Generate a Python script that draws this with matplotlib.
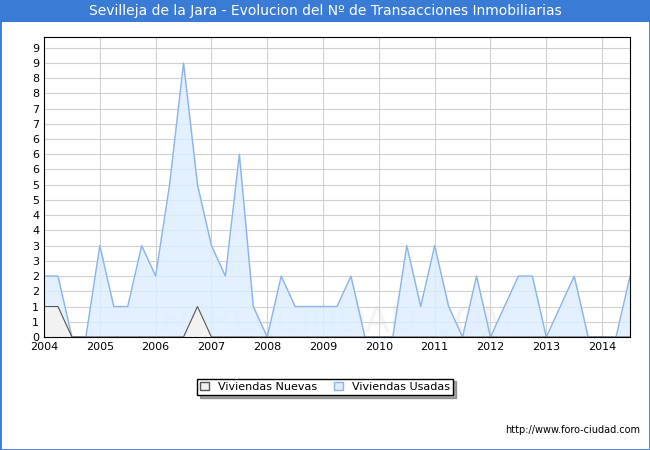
import numpy as np
import matplotlib.pyplot as plt
from matplotlib.patches import Rectangle

x = [2004 + 0.25 * i for i in range(43)]
usadas = [2, 2, 0, 0, 3, 1, 1, 3, 2, 5, 9, 5, 3, 2, 6, 1, 0, 2, 1, 1, 1, 1, 2, 0, 0, 0,
          3, 1, 3, 1, 0, 2, 0, 1, 2, 2, 0, 1, 2, 0, 0, 0, 2]
nuevas = [1, 1, 0, 0, 0, 0, 0, 0, 0, 0, 0, 1, 0, 0, 0, 0, 0, 0, 0, 0, 0, 0, 0, 0, 0, 0,
          0, 0, 0, 0, 0, 0, 0, 0, 0, 0, 0, 0, 0, 0, 0, 0, 0]
years = list(range(2004, 2015))
yticks = np.arange(0, 10, 0.5)
ylabels = ['0', '1', '1', '2', '2', '3', '3', '4', '4', '5', '5', '6', '6', '6', '7', '7', '8', '8', '9', '9']

fig = plt.figure(figsize=(6.5, 4.5), dpi=100)
fig.patches.append(Rectangle((0, 0), 1, 1, transform=fig.transFigure, fill=False,
                             edgecolor='#3a7bd5', linewidth=2))
fig.patches.append(Rectangle((0, 0.951), 1, 0.049, transform=fig.transFigure,
                             facecolor='#3a7bd5', edgecolor='none'))
fig.text(0.5, 0.975, 'Sevilleja de la Jara - Evolucion del Nº de Transacciones Inmobiliarias',
         ha='center', va='center', color='white', fontsize=10)

ax = fig.add_axes([44 / 650, 113 / 450, 586 / 650, 300 / 450])
ax.fill_between(x, usadas, color='#ddeeff', alpha=0.85)
ax.plot(x, usadas, color='#8fb3e8', lw=1)
ax.fill_between(x, nuevas, color='#f2f2f2')
ax.plot(x, nuevas, color='#555555', lw=0.8)
ax.set_xlim(2004, 2014.5)
ax.set_ylim(0, 9.85)
ax.set_xticks(years)
ax.set_xticklabels([str(y) for y in years], fontsize=8)
ax.set_yticks(yticks)
ax.set_yticklabels(ylabels, fontsize=8)
ax.tick_params(length=0)
ax.grid(True, color='#d0d0d0', lw=0.8)
ax.set_axisbelow(True)
ax.text(0.5, 0.05, 'FORO-CIUDAD.COM', transform=ax.transAxes, ha='center', va='center',
        fontsize=26, color='#f4f4f4', zorder=0)

fig.legend(handles=[Rectangle((0, 0), 1, 1, facecolor='#f2f2f2', edgecolor='#555555'),
                    Rectangle((0, 0), 1, 1, facecolor='#ddeeff', edgecolor='#8fb3e8')],
           labels=['Viviendas Nuevas', 'Viviendas Usadas'],
           loc='center', bbox_to_anchor=(0.5, 0.14), ncol=2, fontsize=8,
           fancybox=False, edgecolor='black', shadow=True, handlelength=0.8,
           borderpad=0.3, columnspacing=1.5)
fig.text(0.985, 0.038, 'http://www.foro-ciudad.com', ha='right', fontsize=7)

fig.savefig('out.png')
